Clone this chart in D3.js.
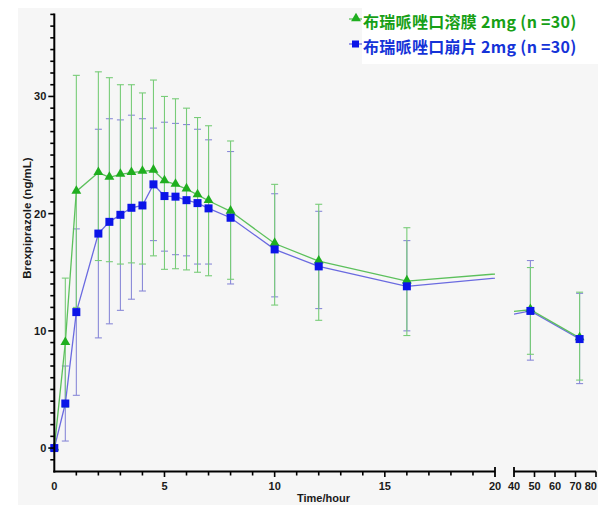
<!DOCTYPE html>
<html>
<head>
<meta charset="utf-8">
<script src="https://cdn.jsdelivr.net/npm/d3@7"></script>
<style>
  html, body { margin: 0; padding: 0; background: #fff; }
  svg { display: block; }
  .tick-label { font-family: "Liberation Sans", Arial, sans-serif; font-weight: bold; font-size: 11px; fill: #1a1a1a; }
  .legend { font-family: "Noto Sans CJK SC", sans-serif; font-weight: bold; font-size: 16px; }
</style>
</head>
<body>
<script>
// sampling times (hours)
var times = [0, 0.5, 1, 2, 2.5, 3, 3.5, 4, 4.5, 5, 5.5, 6, 6.5, 7, 8, 10, 12, 16, 24, 36, 48, 72];

// 布瑞哌唑口溶膜 (film) - mean, upper and lower bar ends
var filmMean  = [0, 9.0, 21.9, 23.5, 23.1, 23.35, 23.5, 23.6, 23.7, 22.8, 22.5, 22.1, 21.6, 21.1, 20.2, 17.45, 15.95, 14.25, 15.45, 11.6, 11.8, 9.4];
var filmUpper = [0, 14.5, 31.8, 32.1, 31.6, 31.0, 31.0, 30.3, 31.4, 30.0, 29.8, 29.0, 28.2, 27.5, 26.2, 22.5, 20.8, 18.8, null, null, 15.4, 13.3];
var filmLower = [0, 3.5, 12.0, 16.0, 15.9, 15.7, 15.8, 15.7, 16.4, 15.25, 15.3, 15.2, 15.0, 14.7, 14.4, 12.2, 10.9, 9.6, null, null, 8.0, 5.8];

// 布瑞哌唑口崩片 (ODT)
var odtMean  = [0, 3.8, 11.6, 18.3, 19.3, 19.9, 20.5, 20.7, 22.5, 21.5, 21.45, 21.15, 20.9, 20.45, 19.65, 16.95, 15.5, 13.8, 15.2, 11.3, 11.7, 9.3];
var odtUpper = [0, 7.0, 18.7, 27.2, 28.1, 28.0, 28.4, 28.1, 27.3, 27.8, 27.7, 27.6, 27.2, 26.3, 25.3, 21.7, 20.2, 17.7, null, null, 16.0, 13.2];
var odtLower = [0, 0.6, 4.5, 9.4, 10.6, 11.75, 12.7, 13.4, 17.7, 16.8, 16.5, 16.4, 15.7, 15.7, 14.0, 12.9, 11.9, 10.0, null, null, 7.5, 5.5];

var legendLabels = ["布瑞哌唑口溶膜 2mg (n =30)", "布瑞哌唑口崩片 2mg (n =30)"];
var yTicks = [0, 10, 20, 30];
var xTicks1 = [0, 5, 10, 15, 20];
var xTicks2 = [40, 50, 60, 70, 80];

var width = 598, height = 505;

var svg = d3.select("body").append("svg").attr("width", width).attr("height", height);

// backdrop
svg.append("rect").attr("x", 18).attr("y", 8).attr("width", width - 18).attr("height", height - 8).attr("fill", "#f6f6f6");

var y = d3.scaleLinear().domain([-2, 37]).range([471.5, 14.4]);
var x1 = d3.scaleLinear().domain([0, 20]).range([54.3, 495]);
var x2 = d3.scaleLinear().domain([40, 80]).range([514, 596]);

var defs = svg.append("defs");
defs.append("clipPath").attr("id", "clip1").append("rect")
  .attr("x", 0).attr("y", 0).attr("width", 495).attr("height", height);
defs.append("clipPath").attr("id", "clip2").append("rect")
  .attr("x", 514).attr("y", 0).attr("width", width - 514).attr("height", height);

var series = [
  { mean: odtMean, up: odtUpper, lo: odtLower, line: "#6a6ae0", bar: "#8a8ad8", mark: "#0b14e8", shape: "square" },
  { mean: filmMean, up: filmUpper, lo: filmLower, line: "#5cc05c", bar: "#78cc78", mark: "#1fae1f", shape: "triangle" }
];

var segs = [
  { x: x1, clip: "url(#clip1)", lo: 0, hi: 20 },
  { x: x2, clip: "url(#clip2)", lo: 40, hi: 80 }
];

var plot = svg.append("g");

// error bars (blue first, green on top)
series.forEach(function(s) {
  segs.forEach(function(seg) {
    var g = plot.append("g");
    times.forEach(function(t, i) {
      if (t < seg.lo || t > seg.hi || s.up[i] == null || t === 0) return;
      var cx = seg.x(t);
      g.append("line").attr("x1", cx).attr("x2", cx).attr("y1", y(s.up[i])).attr("y2", y(s.lo[i]))
        .attr("stroke", s.bar).attr("stroke-width", 1.1);
      [s.up[i], s.lo[i]].forEach(function(v) {
        g.append("line").attr("x1", cx - 3.5).attr("x2", cx + 3.5).attr("y1", y(v)).attr("y2", y(v))
          .attr("stroke", s.bar).attr("stroke-width", 1.1);
      });
    });
  });
});

// lines, clipped per axis segment
series.forEach(function(s) {
  segs.forEach(function(seg) {
    var line = d3.line().x(function(d) { return seg.x(d[0]); }).y(function(d) { return y(d[1]); });
    plot.append("path")
      .datum(times.map(function(t, i) { return [t, s.mean[i]]; }))
      .attr("d", line).attr("fill", "none")
      .attr("stroke", s.line).attr("stroke-width", 1.3)
      .attr("clip-path", seg.clip);
  });
});

// markers (green first, blue squares on top)
var tri = d3.symbol().type(d3.symbolTriangle).size(42);
[series[1], series[0]].forEach(function(s) {
  segs.forEach(function(seg) {
    times.forEach(function(t, i) {
      if (t < seg.lo || t > seg.hi) return;
      var cx = seg.x(t), cy = y(s.mean[i]);
      if (s.shape === "square") {
        plot.append("rect").attr("x", cx - 4).attr("y", cy - 4).attr("width", 8).attr("height", 8).attr("fill", s.mark);
      } else {
        plot.append("path").attr("d", tri).attr("transform", "translate(" + cx + "," + (cy - 0.5) + ")").attr("fill", s.mark);
      }
    });
  });
});

// axes
var axisG = svg.append("g").attr("stroke", "#000");
var yAxisX = x1(0);

axisG.append("line").attr("x1", yAxisX).attr("x2", yAxisX).attr("y1", y(37) - 1).attr("y2", y(-2) + 1).attr("stroke-width", 2);
d3.range(-1, 38).forEach(function(v) {
  var major = yTicks.indexOf(v) >= 0;
  axisG.append("line").attr("x1", yAxisX - (major ? 6 : 4)).attr("x2", yAxisX).attr("y1", y(v)).attr("y2", y(v)).attr("stroke-width", 1.6);
});
svg.selectAll(".ylab").data(yTicks).enter().append("text")
  .attr("class", "tick-label").attr("x", yAxisX - 8).attr("y", function(d) { return y(d) + 4; })
  .attr("text-anchor", "end").text(function(d) { return d; });

var axisY = y(-2);
// segment 1
axisG.append("line").attr("x1", x1(0) - 1).attr("x2", x1(20)).attr("y1", axisY).attr("y2", axisY).attr("stroke-width", 2);
d3.range(1, 20).forEach(function(t) {
  var major = xTicks1.indexOf(t) >= 0;
  axisG.append("line").attr("x1", x1(t)).attr("x2", x1(t)).attr("y1", axisY).attr("y2", axisY + (major ? 5.5 : 4)).attr("stroke-width", 1.6);
});
axisG.append("line").attr("x1", x1(20)).attr("x2", x1(20)).attr("y1", axisY - 4.5).attr("y2", axisY + 5.5).attr("stroke-width", 1.8);
// segment 2
axisG.append("line").attr("x1", x2(40)).attr("x2", x2(80)).attr("y1", axisY).attr("y2", axisY).attr("stroke-width", 2);
axisG.append("line").attr("x1", x2(40)).attr("x2", x2(40)).attr("y1", axisY - 4.5).attr("y2", axisY + 5.5).attr("stroke-width", 1.8);
[50, 60, 70, 80].forEach(function(t) {
  axisG.append("line").attr("x1", x2(t)).attr("x2", x2(t)).attr("y1", axisY).attr("y2", axisY + 5.5).attr("stroke-width", 1.6);
});

svg.selectAll(".xlab1").data(xTicks1).enter().append("text")
  .attr("class", "tick-label").attr("x", function(d) { return x1(d); }).attr("y", 490)
  .attr("text-anchor", "middle").text(function(d) { return d; });
svg.selectAll(".xlab2").data(xTicks2).enter().append("text")
  .attr("class", "tick-label")
  .attr("x", function(d) { return d === 80 ? width - 1 : x2(d); }).attr("y", 490)
  .attr("text-anchor", function(d) { return d === 80 ? "end" : "middle"; })
  .text(function(d) { return d; });

// axis titles
svg.append("text").attr("class", "tick-label").attr("x", 297).attr("y", 502).text("Time/hour");
svg.append("text").attr("class", "tick-label").style("font-size", "11.5px")
  .attr("transform", "translate(31,218) rotate(-90)").attr("text-anchor", "middle")
  .text("Brexpiprazole (ng/mL)");

// legend
var leg = svg.append("g");
leg.append("rect").attr("x", 362).attr("y", 8).attr("width", width - 362).attr("height", 56).attr("fill", "#fff");
var legendColors = [{ line: "#5cc05c", mark: "#1fae1f", text: "#17a017", shape: "triangle" },
                    { line: "#6a6ae0", mark: "#0b14e8", text: "#1533d8", shape: "square" }];
legendLabels.forEach(function(lbl, i) {
  var cy = 19 + i * 25;
  var c = legendColors[i];
  leg.append("line").attr("x1", 349).attr("x2", 362).attr("y1", cy).attr("y2", cy).attr("stroke", c.line).attr("stroke-width", 1.3);
  if (c.shape === "square") {
    leg.append("rect").attr("x", 352).attr("y", cy - 3.5).attr("width", 7).attr("height", 7).attr("fill", c.mark);
  } else {
    leg.append("path").attr("d", tri).attr("transform", "translate(356," + (cy - 0.5) + ")").attr("fill", c.mark);
  }
  leg.append("text").attr("class", "legend").attr("x", 363).attr("y", cy + 9)
    .attr("fill", c.text).style("letter-spacing", "0.3px").text(lbl);
});
</script>
</body>
</html>
